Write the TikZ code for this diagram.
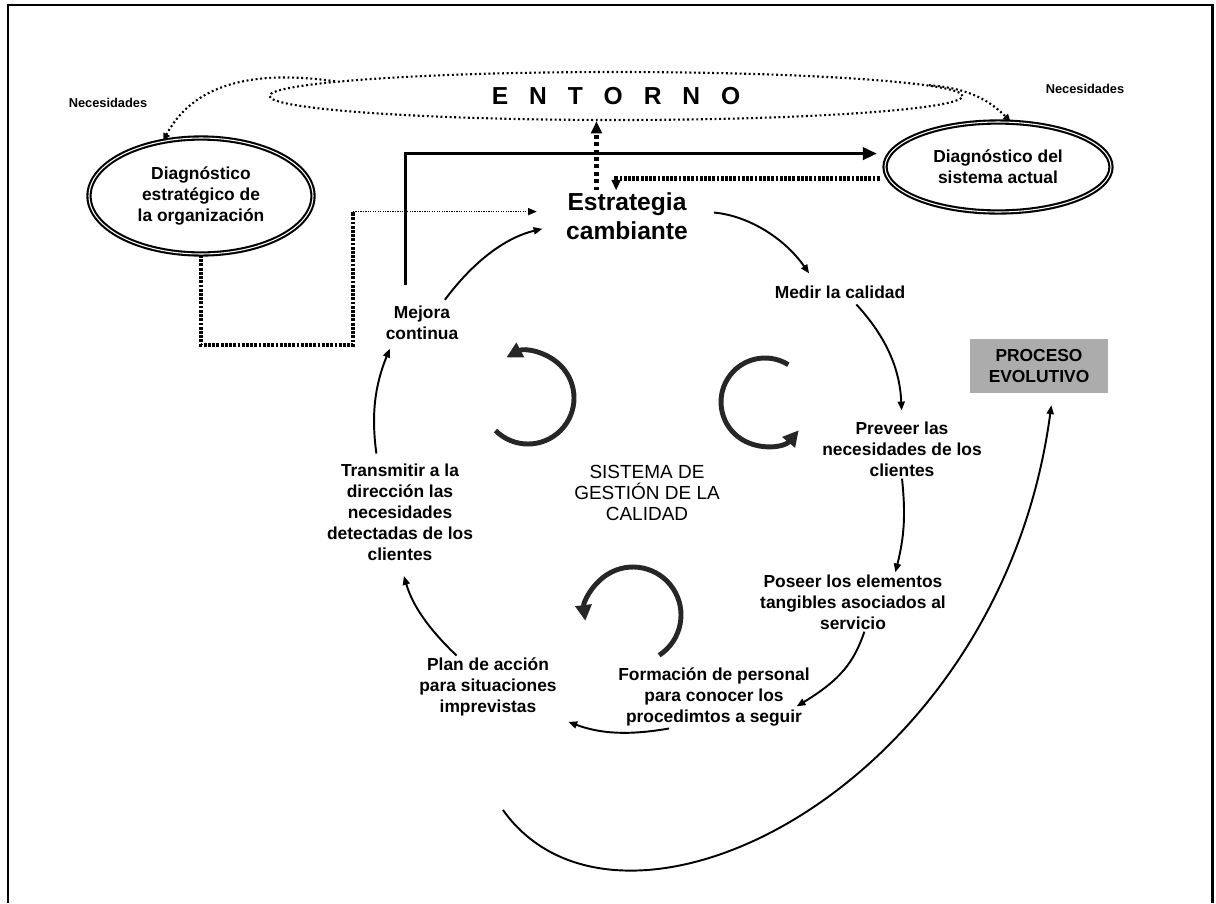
\documentclass[tikz,border=0pt]{standalone}
\usepackage{fontspec}
\setmainfont{Liberation Sans}
\usepackage{tikz}
\usetikzlibrary{shapes.geometric,arrows.meta,positioning,calc}

\newlength{\pxu}
\setlength{\pxu}{0.02cm}

\begin{document}
\begin{tikzpicture}[
  x=\pxu, y=\pxu,
  txt/.style={align=center, font=\bfseries\fontsize{9.9}{11.9}\selectfont, inner sep=2\pxu},
  diag/.style={ellipse, draw, line width=1.2pt, double=white, double distance=0.6pt,
               align=center, font=\bfseries\fontsize{9.9}{11.9}\selectfont, inner sep=0pt},
  flow/.style={-{Triangle[length=5pt,width=4pt]}, line width=1.1pt},
  cyc/.style={-{Triangle[length=9pt,width=9pt]}, line width=2.8pt, color=black!85},
  envdots/.style={line width=1.2pt, dash pattern=on 1.1pt off 1.5pt},
  fatdots/.style={line width=2.6pt, dash pattern=on 1.6pt off 0.8pt},
  finedots/.style={line width=0.9pt, dash pattern=on 0.7pt off 0.7pt},
  nec/.style={font=\bfseries\fontsize{7.3}{9}\selectfont}
]
  \useasboundingbox (0,0) rectangle (1216,-903);
  \draw[line width=1.7pt] (8,-903) -- (8,-5) -- (1212,-5) -- (1212,-903);

  % entorno y diagnosticos
  \node[ellipse, draw, envdots, minimum width=693\pxu, minimum height=48\pxu,
        font=\bfseries\fontsize{14}{16}\selectfont] (entorno) at (616,-96)
        {E\hspace{0.85em}N\hspace{0.85em}T\hspace{0.85em}O\hspace{0.85em}R\hspace{0.85em}N\hspace{0.85em}O};
  \node[diag, minimum width=224\pxu, minimum height=116\pxu] (diagest) at (201,-196)
        {Diagnóstico\\estratégico de\\la organización};
  \node[diag, minimum width=226\pxu, minimum height=90\pxu] (actual) at (998,-167)
        {Diagnóstico del\\sistema actual};
  \node[nec] (necizq) at (108,-103) {Necesidades};
  \node[nec] (necder) at (1085,-89) {Necesidades};

  % ciclo
  \node[txt, font=\bfseries\fontsize{14}{16.2}\selectfont] (estrategia) at (627,-216) {Estrategia\\cambiante};
  \node[txt] (medir) at (840,-292) {Medir la calidad};
  \node[txt] (preveer) at (902,-449) {Preveer las\\necesidades de los\\clientes};
  \node[txt] (poseer) at (853,-602) {Poseer los elementos\\tangibles asociados al\\servicio};
  \node[txt] (formacion) at (714,-697) {Formación de personal\\para conocer los\\procedimtos a seguir};
  \node[txt] (plan) at (488,-687) {Plan de acción\\para situaciones\\imprevistas};
  \node[txt] (transmitir) at (400,-512) {Transmitir a la\\dirección las\\necesidades\\detectadas de los\\clientes};
  \node[txt] (mejora) at (422,-323) {Mejora\\continua};
  \node[align=center, font=\fontsize{10.8}{12.2}\selectfont] (sgc) at (647,-493)
        {SISTEMA DE\\GESTIÓN DE LA\\CALIDAD};
  \node[txt, fill=gray!65, minimum width=138\pxu, minimum height=54\pxu] (proceso) at (1039,-366)
        {PROCESO\\EVOLUTIVO};

  \coordinate (bend) at (353,-345);
  \coordinate (evol) at (503,-810);
  \coordinate (rotA) at (528,-398);
  \coordinate (rotB) at (765,-402);
  \coordinate (rotC) at (633,-615);

  % Arrows
  \draw[envdots, -{Triangle[length=4pt,width=4pt]}] (entorno.177) to[out=172, in=62] (diagest.124);
  \draw[envdots, -{Triangle[length=4pt,width=4pt]}] (entorno.2) to[out=-5, in=135] (actual.75);

  \draw[line width=1.8pt, -{Triangle[length=8pt,width=7pt]}, shorten <=19\pxu, shorten >=12\pxu]
        (mejora.130) |- (actual.173);
  \draw[fatdots, -{Triangle[length=6pt,width=5pt]}, shorten <=8\pxu] (actual.186) -| (estrategia.113);
  \draw[fatdots, dash pattern=on 2.2pt off 2pt, -{Triangle[length=7pt,width=6pt]}]
        (estrategia.140) -- (estrategia.140 |- entorno.south);
  \draw[fatdots] (diagest.south) |- (bend) -- (bend |- estrategia.176);
  \draw[finedots, -{Triangle[length=5pt,width=4pt]}, shorten >=27\pxu] (bend |- estrategia.176) -- (estrategia.176);

  \draw[flow, shorten <=24\pxu, shorten >=12\pxu] (estrategia.5) to[bend left=25] (medir.160);
  \draw[flow, shorten <=5\pxu, shorten >=9\pxu] (medir.-34) to[bend left=20] (preveer.north);
  \draw[flow] (preveer.south) to[bend left=10] (poseer.35);
  \draw[flow, shorten >=-18\pxu] (poseer.-69) to[bend left=20] (formacion.east);
  \draw[flow, shorten >=10\pxu] (formacion.215) to[bend left=15] (plan.south east);
  \draw[flow, shorten >=14\pxu] (plan.135) to[bend left=15] (transmitir.south);
  \draw[flow, shorten <=8\pxu, shorten >=7\pxu] (transmitir.114) to[bend left=15] (mejora.213);
  \draw[flow, shorten <=5\pxu, shorten >=22\pxu] (mejora.44) to[bend left=20] (estrategia.187);

  \draw[flow, shorten >=12\pxu] (evol) .. controls (620,-975) and (1000,-790) .. (proceso.-63);

  \draw[cyc] ([shift={(225:46)}]rotA) arc[start angle=225, end angle=478, radius=46\pxu];
  \draw[cyc] ([shift={(58:44)}]rotB) arc[start angle=58, end angle=320, radius=44\pxu];
  \draw[cyc] ([shift={(-57:48)}]rotC) arc[start angle=-57, end angle=187, radius=48\pxu];
\end{tikzpicture}
\end{document}
